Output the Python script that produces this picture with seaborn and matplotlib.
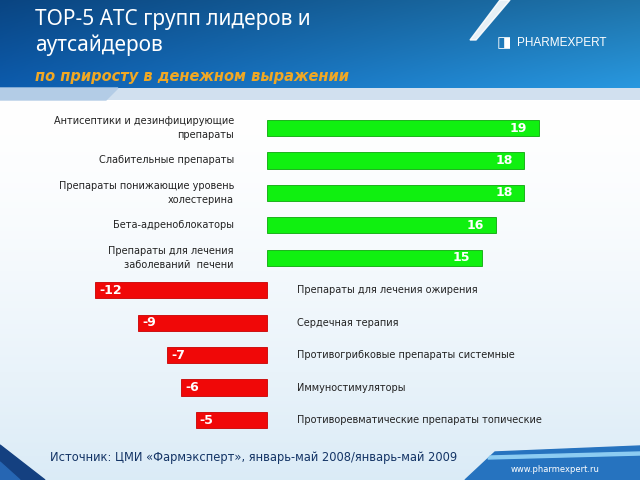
import numpy as np
import pandas as pd
import matplotlib
matplotlib.use("Agg")
import matplotlib.pyplot as plt
from matplotlib.patches import Polygon
import seaborn as sns

# ---------------- data ----------------
leaders = ["Антисептики и дезинфицирующие\nпрепараты",
           "Слабительные препараты",
           "Препараты понижающие уровень\nхолестерина",
           "Бета-адреноблокаторы",
           "Препараты для лечения\nзаболеваний  печени"]
leader_values = [19, 18, 18, 16, 15]
outsiders = ["Препараты для лечения ожирения",
             "Сердечная терапия",
             "Противогрибковые препараты системные",
             "Иммуностимуляторы",
             "Противоревматические препараты топические"]
outsider_values = [-12, -9, -7, -6, -5]

title = "TOP-5 АТС групп лидеров и\nаутсайдеров"
subtitle = "по приросту в денежном выражении"
source = "Источник: ЦМИ «Фармэксперт», январь-май 2008/январь-май 2009"

df = pd.DataFrame({
    "cat": leaders + outsiders,
    "value": leader_values + outsider_values,
    "group": ["leader"] * len(leaders) + ["outsider"] * len(outsiders),
})

sns.set_theme(style="white")
plt.rcParams["font.family"] = ["DejaVu Sans"]

W, H = 640, 480
fig = plt.figure(figsize=(6.4, 4.8), dpi=100)

# ---------------- background ----------------
bg = fig.add_axes([0, 0, 1, 1], zorder=-10)
bg.set_axis_off()
yy, xx = np.mgrid[0:H, 0:W]
img = np.ones((H, W, 3))
t = np.clip((yy - 100) / 380, 0, 1) ** 1.5
tint = np.array([0.78, 0.88, 0.95])
img[:] = (1 - 0.65 * t[..., None]) * 1.0 + 0.65 * t[..., None] * tint
hdr = yy < 88
fx = xx / W
left_c = np.array([0.05, 0.36, 0.68])
right_c = np.array([0.16, 0.60, 0.88])
grad = left_c[None, None, :] * (1 - fx[..., None]) + right_c[None, None, :] * fx[..., None]
shade = (1 - 0.25 * (1 - yy / 88.0))[..., None]
img[hdr] = (grad * shade)[hdr]
strip = (yy >= 88) & (yy < 100)
img[strip] = np.array([0.82, 0.88, 0.94])
bg.imshow(img, extent=[0, W, H, 0], aspect="auto")
bg.set_xlim(0, W)
bg.set_ylim(H, 0)
bg.add_patch(Polygon([[470, 40], [500, 0], [510, 0], [476, 40]], closed=True,
                     color="white", alpha=0.9))
bg.add_patch(Polygon([[0, 88], [118, 88], [106, 100], [0, 100]], closed=True,
                     color=(0.70, 0.80, 0.90)))
bg.add_patch(Polygon([[0, 445], [45, 480], [0, 480]], closed=True,
                     color=(0.08, 0.25, 0.50)))
bg.add_patch(Polygon([[0, 462], [20, 480], [0, 480]], closed=True,
                     color=(0.15, 0.40, 0.70)))
bg.add_patch(Polygon([[495, 452], [640, 446], [640, 480], [465, 480]], closed=True,
                     color=(0.15, 0.45, 0.75)))
bg.add_patch(Polygon([[490, 456], [640, 452], [640, 455], [488, 459]], closed=True,
                     color=(0.55, 0.80, 0.95)))

# ---------------- chart ----------------
px_per_unit = 14.3
x0 = 267
ax_l, ax_r = 60, 600
ax_t, ax_b = 110, 440
ax = fig.add_axes([ax_l / W, 1 - ax_b / H, (ax_r - ax_l) / W, (ax_b - ax_t) / H])
ax.patch.set_alpha(0)

palette = {"leader": "#10f010", "outsider": "#f00808"}
sns.barplot(data=df, x="value", y="cat", hue="group", palette=palette,
            orient="h", width=0.5, dodge=False, legend=False, ax=ax,
            saturation=1, edgecolor="none", linewidth=0)
for p, g in zip(ax.patches, df["group"]):
    p.set_edgecolor("#0ca80c" if g == "leader" else "#c80000")
    p.set_linewidth(0.6)

ax.set_xlim((ax_l - x0) / px_per_unit, (ax_r - x0) / px_per_unit)
spacing = (420 - 128) / 9
ax.set_ylim(9 + (ax_b - 420) / spacing, -(128 - ax_t) / spacing)
ax.set_axis_off()

lbl_l = (234 - x0) / px_per_unit
lbl_r = (297 - x0) / px_per_unit
for i, (cat, val, g) in enumerate(zip(df["cat"], df["value"], df["group"])):
    if g == "leader":
        ax.text(lbl_l, i, cat, ha="right", va="center", fontsize=7,
                color="#222222", linespacing=1.45)
        ax.text(val - 0.8, i, str(val), ha="right", va="center", fontsize=9,
                color="white", fontweight="bold")
    else:
        ax.text(lbl_r, i, cat, ha="left", va="center", fontsize=7,
                color="#222222")
        ax.text(val + 0.3, i, str(val), ha="left", va="center", fontsize=9,
                color="white", fontweight="bold")

# ---------------- texts ----------------
fig.text(35 / W, 1 - 9 / H, title, ha="left", va="top", fontsize=15,
         color="white", linespacing=1.3, family=["Noto Sans", "DejaVu Sans"])
fig.text(35 / W, 1 - 76 / H, subtitle, ha="left", va="center", fontsize=10.5,
         color="#f0a824", fontweight="bold", style="italic")
fig.text(517 / W, 1 - 43 / H, "PHARMEXPERT", ha="left", va="center",
         fontsize=8.5, color="white", family=["Liberation Sans Narrow", "Liberation Sans"])
fig.text(497 / W, 1 - 43 / H, "◨", ha="left", va="center", fontsize=11,
         color="white")
fig.text(50 / W, 1 - 457 / H, source, ha="left", va="center", fontsize=8.3,
         color="#143566")
fig.text(600 / W, 1 - 470 / H, "www.pharmexpert.ru", ha="right", va="center",
         fontsize=6, color="white")

fig.savefig("out.png", dpi=100)
